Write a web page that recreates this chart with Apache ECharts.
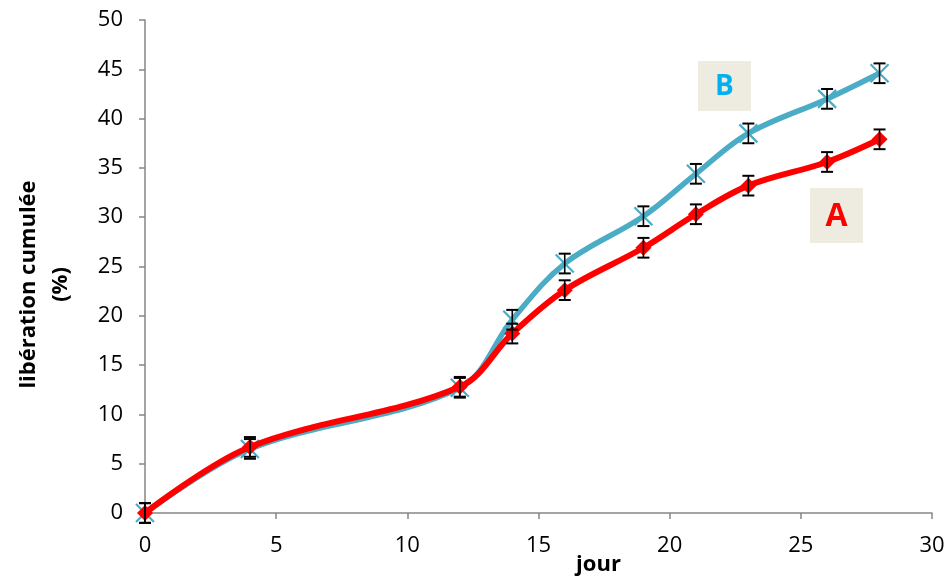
<!DOCTYPE html>
<html><head><meta charset="utf-8">
<script src="https://cdn.jsdelivr.net/npm/echarts@6/dist/echarts.min.js"></script>
<style>html,body{margin:0;padding:0;background:#fff}#c{width:950px;height:578px}</style>
</head><body><div id="c"></div>
<script>
const days = [0, 4, 12, 14, 16, 19, 21, 23, 26, 28];
const seriesA = [0, 6.7, 12.8, 18.2, 22.6, 26.9, 30.3, 33.2, 35.6, 37.9];
const seriesB = [0, 6.5, 12.7, 19.6, 25.3, 30.1, 34.4, 38.5, 42.0, 44.6];
const errA = [1, 1, 1, 1, 1, 1, 1, 1, 1, 1];
const errB = [1, 1, 1, 1, 1, 1, 1, 1, 1, 1];
const seriesNames = ['A', 'B'];
const xTitle = 'jour';
const yTitle = 'libération cumulée\n(%)';

const chart = echarts.init(document.getElementById('c'));
const font = '"Open Sans", sans-serif';
const pts = (ys) => days.map((d, i) => [d, ys[i]]);
const errData = (ys, es) => days.map((d, i) => [d, ys[i] - es[i], ys[i] + es[i]]);
function errRender(params, api) {
  const x = api.value(0);
  const lo = api.coord([x, api.value(1)]);
  const hi = api.coord([x, api.value(2)]);
  const w = 6;
  const st = {stroke: '#000', lineWidth: 1.6};
  return {type: 'group', children: [
    {type: 'line', shape: {x1: lo[0], y1: lo[1], x2: hi[0], y2: hi[1]}, style: st},
    {type: 'line', shape: {x1: lo[0]-w, y1: lo[1], x2: lo[0]+w, y2: lo[1]}, style: {stroke: '#000', lineWidth: 2}},
    {type: 'line', shape: {x1: hi[0]-w, y1: hi[1], x2: hi[0]+w, y2: hi[1]}, style: {stroke: '#000', lineWidth: 2}}
  ]};
}
chart.setOption({
  animation: false,
  grid: {left: 145, right: 18, top: 20, bottom: 65, containLabel: false, outerBoundsMode: 'none'},
  xAxis: {type: 'value', min: 0, max: 30, interval: 5,
    name: xTitle, nameLocation: 'middle', nameGap: 41, nameMoveOverlap: false,
    nameTextStyle: {fontFamily: font, fontWeight: 'bold', fontSize: 22, color: '#000', padding: [0, 0, 0, 120]},
    axisLine: {lineStyle: {color: '#868686', width: 1.5}},
    axisTick: {show: true, length: 6, lineStyle: {color: '#868686', width: 1.5}},
    axisLabel: {fontFamily: font, fontSize: 22, color: '#000', margin: 22},
    splitLine: {show: false}},
  yAxis: {type: 'value', min: 0, max: 50, interval: 5,
    name: yTitle, nameLocation: 'middle', nameGap: 68, nameRotate: 90, nameMoveOverlap: false,
    nameTextStyle: {fontFamily: font, fontWeight: 'bold', fontSize: 22, color: '#000', lineHeight: 32, padding: [0, 36, 0, 0]},
    axisLine: {show: true, lineStyle: {color: '#868686', width: 1.5}},
    axisTick: {show: true, length: 6, lineStyle: {color: '#868686', width: 1.5}},
    axisLabel: {fontFamily: font, fontSize: 22, color: '#000', margin: 22},
    splitLine: {show: false}},
  series: [
    {name: seriesNames[1], type: 'line', data: pts(seriesB), smooth: 0.35, z: 2,
      lineStyle: {color: '#4BACC6', width: 5.5},
      symbol: 'path://M0,0L10,10M10,0L0,10', symbolSize: 18,
      itemStyle: {color: 'rgba(0,0,0,0)', borderColor: '#4BACC6', borderWidth: 2.2}},
    {name: seriesNames[0], type: 'line', data: pts(seriesA), smooth: 0.35, z: 3,
      lineStyle: {color: '#FF0000', width: 6},
      symbol: 'diamond', symbolSize: 16,
      itemStyle: {color: '#FF0000'}},
    {type: 'custom', renderItem: errRender, data: errData(seriesB, errB), z: 5, silent: true},
    {type: 'custom', renderItem: errRender, data: errData(seriesA, errA), z: 5, silent: true}
  ],
  graphic: [
    {type: 'rect', left: 698, top: 61, shape: {width: 53, height: 50}, style: {fill: '#EEECE1'}},
    {type: 'text', x: 724.5, y: 87, style: {text: seriesNames[1], fill: '#00B0F0', font: 'bold 28px ' + font, align: 'center', verticalAlign: 'middle'}},
    {type: 'rect', left: 810, top: 188, shape: {width: 53, height: 55}, style: {fill: '#EEECE1'}},
    {type: 'text', x: 836.5, y: 217, style: {text: seriesNames[0], fill: '#FF0000', font: 'bold 32px ' + font, align: 'center', verticalAlign: 'middle'}}
  ]
});
</script></body></html>
